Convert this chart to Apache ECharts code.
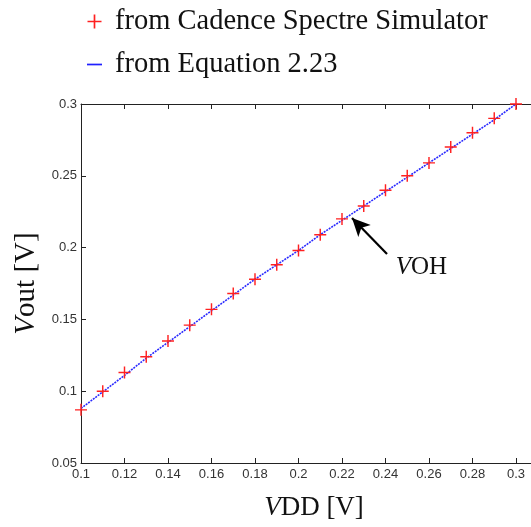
<!DOCTYPE html>
<html>
<head>
<meta charset="utf-8">
<script src="https://cdn.jsdelivr.net/npm/echarts@6/dist/echarts.min.js"></script>
<style>html,body{margin:0;padding:0;background:#fff}#c{width:531px;height:527px}</style>
</head>
<body>
<div id="c"></div>
<script>
// ---- data ----
const vdd = [0.10, 0.11, 0.12, 0.13, 0.14, 0.15, 0.16, 0.17, 0.18, 0.19, 0.20,
             0.21, 0.22, 0.23, 0.24, 0.25, 0.26, 0.27, 0.28, 0.29, 0.30];
const voutSim = [0.087, 0.100, 0.113, 0.124, 0.135, 0.146, 0.157, 0.168, 0.178, 0.188, 0.198,
                 0.209, 0.220, 0.229, 0.240, 0.250, 0.259, 0.270, 0.280, 0.290, 0.300];
const voutEq = [0.088, 0.0995, 0.111, 0.123, 0.134, 0.145, 0.156, 0.167, 0.178, 0.188, 0.198,
                0.209, 0.219, 0.229, 0.239, 0.249, 0.259, 0.269, 0.279, 0.289, 0.300];
const xTicks = [0.1, 0.12, 0.14, 0.16, 0.18, 0.2, 0.22, 0.24, 0.26, 0.28, 0.3];
const yTicks = [0.05, 0.1, 0.15, 0.2, 0.25, 0.3];
const seriesNames = ['from Cadence Spectre Simulator', 'from Equation 2.23'];
const arrowFrom = [0.2407, 0.1955];
const arrowTo = [0.2246, 0.2206];
const labelAt = [0.2565, 0.1865];
const xMax = 0.3069; // axis continues past the right edge of the picture

const plusPath = 'path://M0,4.4H10V5.6H0Z M4.4,0H5.6V10H4.4Z';
const dashPath = 'path://M0,0H14V1.6H0Z';
const serif = 'Liberation Serif';

const chart = echarts.init(document.getElementById('c'), null, {renderer: 'canvas'});
const axisLineStyle = {color: '#222', width: 1};
chart.setOption({
  animation: false,
  backgroundColor: '#fff',
  grid: {left: 81, top: 104, bottom: 64, right: 0, containLabel: false},
  legend: {
    orient: 'vertical', left: 82, top: 1, itemGap: 12,
    itemWidth: 15, itemHeight: 14,
    textStyle: {fontFamily: serif, fontSize: 28.5, color: '#111', padding: [0, 0, 0, 8], lineHeight: 31},
    data: [
      {name: seriesNames[0], icon: plusPath, itemStyle: {color: '#ff2020'}},
      {name: seriesNames[1], icon: dashPath, itemStyle: {color: '#2020ff'}}
    ]
  },
  xAxis: [{
    type: 'value', min: xTicks[0], max: xMax, interval: 0.02,
    name: '{i|V}DD [V]', nameLocation: 'middle', nameGap: 31,
    nameTextStyle: {fontFamily: serif, fontSize: 27, color: '#111', padding: [0, 0, 0, 16],
      rich: {i: {fontFamily: serif, fontSize: 27, fontStyle: 'italic', color: '#111'}}},
    axisLine: {lineStyle: axisLineStyle},
    axisTick: {inside: true, length: 5, lineStyle: axisLineStyle},
    axisLabel: {fontFamily: 'Liberation Sans', fontSize: 13, color: '#333', margin: 5, showMaxLabel: false,
      formatter: v => xTicks.some(t => Math.abs(t - v) < 1e-9) ? String(+v.toFixed(2)) : ''},
    splitLine: {show: false}
  }, {
    type: 'value', position: 'top', min: xTicks[0], max: xMax, interval: 0.02,
    axisLine: {lineStyle: axisLineStyle},
    axisTick: {inside: true, length: 5, lineStyle: axisLineStyle},
    axisLabel: {show: false}, splitLine: {show: false}
  }],
  yAxis: {
    type: 'value', min: yTicks[0], max: yTicks[yTicks.length - 1], interval: 0.05,
    name: '{i|V}out [V]', nameLocation: 'middle', nameGap: 39, nameRotate: 90,
    nameTextStyle: {fontFamily: serif, fontSize: 29, color: '#111',
      rich: {i: {fontFamily: serif, fontSize: 29, fontStyle: 'italic', color: '#111'}}},
    axisLine: {show: true, lineStyle: axisLineStyle},
    axisTick: {show: true, inside: true, length: 5, lineStyle: axisLineStyle},
    axisLabel: {fontFamily: 'Liberation Sans', fontSize: 13, color: '#333', margin: 4},
    splitLine: {show: false}
  },
  series: [{
    name: seriesNames[1], type: 'line', symbol: 'none', z: 2,
    data: vdd.map((x, i) => [x, voutEq[i]]),
    lineStyle: {color: '#2a2aff', width: 1.6, type: [2, 1]},
    markLine: {
      silent: true, symbol: ['none', 'arrow'], symbolSize: [13, 18],
      lineStyle: {color: '#000', width: 2.2, type: 'solid'},
      label: {show: false},
      data: [[{coord: arrowFrom}, {coord: arrowTo}]]
    },
    markPoint: {
      silent: true, symbol: 'circle', symbolSize: 0,
      data: [{coord: labelAt}],
      label: {show: true, formatter: '{i|V}OH', position: 'inside',
        fontFamily: serif, fontSize: 25, color: '#111',
        rich: {i: {fontFamily: serif, fontSize: 25, fontStyle: 'italic', color: '#111'}}}
    }
  }, {
    name: seriesNames[0], type: 'scatter', z: 3,
    symbol: plusPath, symbolSize: 12, symbolKeepAspect: true,
    data: vdd.map((x, i) => [x, voutSim[i]]),
    itemStyle: {color: '#ff2020', opacity: 1}
  }]
});
</script>
</body>
</html>
